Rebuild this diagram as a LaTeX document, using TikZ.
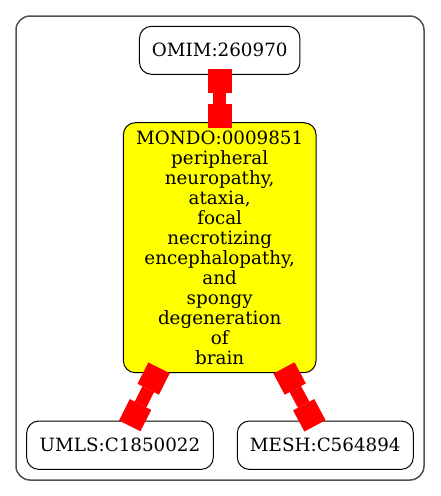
\documentclass[tikz,border=0pt]{standalone}
\usepackage{fontspec}
\setmainfont{DejaVu Serif}
\usetikzlibrary{arrows.meta}
\definecolor{frame}{HTML}{505050}
\definecolor{fillyellow}{RGB}{255,255,0}
\definecolor{linkred}{RGB}{255,0,0}
\tikzset{
  box/.style={draw=black, line width=1pt, rounded corners=12pt, inner sep=0pt,
    align=center, font=\fontsize{18.3}{20}\selectfont},
  link/.style={draw=linkred, line width=13pt,
    {Square[length=24pt,width=24pt,line width=0pt]}-{Square[length=24pt,width=24pt,line width=0pt]},
    shorten <=-6pt, shorten >=-6pt}
}
\begin{document}
\begin{tikzpicture}[x=1pt,y=-1pt]
\useasboundingbox (0,0) rectangle (440,496);
\draw[frame, line width=1.5pt, rounded corners=14pt] (16,16) rectangle (424,480);
\node[box, minimum width=160.5pt, minimum height=48pt] (omim) at (219.7,50.3) {OMIM:260970};
\node[box, fill=fillyellow, minimum width=192.7pt, minimum height=250pt] (mondo) at (219.7,247.7)
  {MONDO:0009851\\peripheral\\neuropathy,\\ataxia,\\focal\\necrotizing\\encephalopathy,\\and\\spongy\\degeneration\\of\\brain};
\node[box, minimum width=186.6pt, minimum height=48.3pt] (umls) at (120,445.2) {UMLS:C1850022};
\node[box, minimum width=176pt, minimum height=48.3pt] (mesh) at (325.3,445.2) {MESH:C564894};
\draw[link] (omim) -- (mondo);
\draw[link] (mondo) -- (umls);
\draw[link] (mondo) -- (mesh);
\end{tikzpicture}
\end{document}
